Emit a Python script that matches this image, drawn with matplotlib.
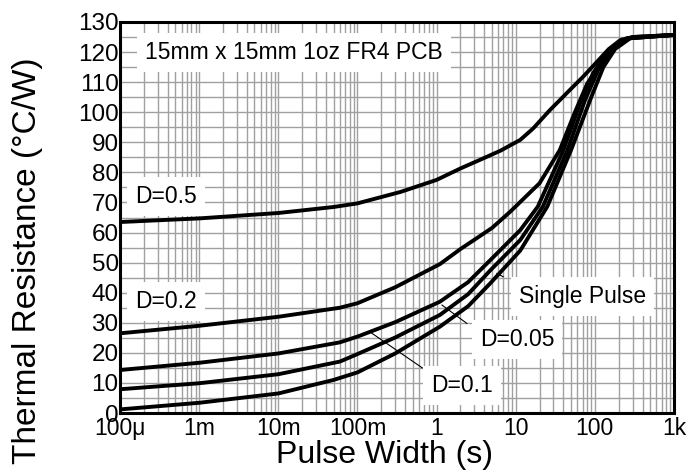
import numpy as np
import matplotlib
matplotlib.use("Agg")
import matplotlib.pyplot as plt
from matplotlib.ticker import FixedLocator, NullFormatter

plt.rcParams['font.family'] = ['Liberation Sans', 'DejaVu Sans']

# Pulse width (s) and thermal resistance (C/W) per duty cycle
x_d50 = [1e-4, 1e-3, 1e-2, 5e-2, 1e-1, 0.35, 1, 2, 4, 6.4, 11.4, 16.6, 27, 36, 50, 71, 100, 150, 210, 300, 1000]
y_d50 = [63.5, 64.7, 66.5, 68.5, 69.7, 73.5, 77.5, 81.3, 84.8, 87.2, 90.8, 94.6, 100.7, 104, 107.8, 111.8, 116, 121, 124, 125, 125.7]

x_d20 = [1e-4, 1e-3, 1e-2, 6e-2, 1e-1, 0.3, 1.1, 2, 5, 8.5, 20, 36, 56, 80, 128, 200, 300, 1000]
y_d20 = [26.5, 29.0, 32.0, 35.0, 36.5, 41.8, 49.5, 54.5, 61.5, 66.9, 76.4, 87.4, 100, 109.5, 117.5, 123, 125, 125.7]

x_d10 = [1e-4, 1e-3, 1e-2, 6e-2, 1e-1, 0.3, 1.1, 2.5, 4.8, 11.4, 19, 40, 65, 95, 150, 250, 1000]
y_d10 = [14.3, 16.7, 19.8, 23.5, 25.4, 30.2, 37.0, 43.5, 50.9, 60.8, 68.6, 87.4, 103, 113, 120.5, 124.5, 125.7]

x_d05 = [1e-4, 1e-3, 1e-2, 6e-2, 1e-1, 0.3, 1.1, 2.5, 4.8, 11.4, 22, 45, 75, 110, 170, 260, 1000]
y_d05 = [7.9, 9.9, 12.9, 17.1, 19.6, 25.1, 32.6, 39.5, 47.5, 57.5, 68.6, 87.4, 104, 114, 121.5, 124.6, 125.7]

x_sp = [1e-4, 1e-3, 1e-2, 5e-2, 1e-1, 0.3, 1.1, 2.5, 4.8, 11.4, 25, 50, 90, 128, 180, 280, 1000]
y_sp = [1.2, 3.4, 6.5, 11.0, 13.5, 19.8, 28.7, 35.5, 43.2, 54.0, 68.6, 87.4, 105, 115, 121, 124.6, 125.7]

xticks = [1e-4, 1e-3, 1e-2, 1e-1, 1, 10, 100, 1000]
xticklabels = ['100\u03bc', '1m', '10m', '100m', '1', '10', '100', '1k']
yticks = list(range(0, 131, 10))

fig = plt.figure(figsize=(6.91, 4.71), dpi=100)
ax = fig.add_axes([0.1737, 0.1231, 0.8017, 0.8302])

for xs, ys in [(x_d50, y_d50), (x_d20, y_d20), (x_d10, y_d10), (x_d05, y_d05), (x_sp, y_sp)]:
    ax.plot(xs, ys, color='black', lw=2.8, solid_capstyle='round', solid_joinstyle='round', zorder=3)

ax.set_xscale('log')
ax.set_xlim(1e-4, 1e3)
ax.set_ylim(0, 130)

ax.xaxis.set_major_locator(FixedLocator(xticks))
ax.set_xticklabels(xticklabels)
minors = [m * 10.0 ** e for e in range(-4, 3) for m in range(2, 10)]
ax.xaxis.set_minor_locator(FixedLocator(minors))
ax.xaxis.set_minor_formatter(NullFormatter())
ax.set_yticks(yticks)
ax.yaxis.set_minor_locator(FixedLocator(list(range(5, 130, 10))))

ax.grid(True, which='both', color='#a0a0a0', lw=1.0, zorder=0)
ax.tick_params(which='both', length=0)
ax.tick_params(axis='x', labelsize=16.5, pad=3)
ax.tick_params(axis='y', labelsize=17.5, pad=1)
for s in ax.spines.values():
    s.set_linewidth(2.2)

ax.set_xlabel('Pulse Width (s)', fontsize=23, va='top')
ax.xaxis.set_label_coords(0.478, -0.07)
ax.set_ylabel('Thermal Resistance (\u00b0C/W)', fontsize=24)
ax.yaxis.set_label_coords(-0.139, 0.389)

box = dict(facecolor='white', edgecolor='none', boxstyle='square,pad=0.35')
ax.text(2.07e-4, 120, '15mm x 15mm 1oz FR4 PCB', fontsize=16.5, va='center', ha='left', bbox=box, zorder=4)
ax.text(1.55e-4, 72, 'D=0.5', fontsize=16.5, va='center', ha='left', bbox=box, zorder=4)
ax.text(1.55e-4, 37.2, 'D=0.2', fontsize=16.5, va='center', ha='left', bbox=box, zorder=4)
ax.text(69, 38.6, 'Single Pulse', fontsize=16.5, va='center', ha='center', bbox=box, zorder=4)
ax.text(10.4, 24.6, 'D=0.05', fontsize=16.5, va='center', ha='center', bbox=box, zorder=4)
ax.text(2.1, 9.3, 'D=0.1', fontsize=16.5, va='center', ha='center', bbox=box, zorder=4)

# thin leader lines to the curves
ax.plot([0.145, 0.66], [26.9, 15.0], color='black', lw=0.8, zorder=4)
ax.plot([1.17, 2.41], [35.9, 29.8], color='black', lw=0.8, zorder=4)
ax.plot([5.78, 6.95], [46.4, 45.3], color='black', lw=0.8, zorder=4)

fig.savefig('out.png', dpi=100)
